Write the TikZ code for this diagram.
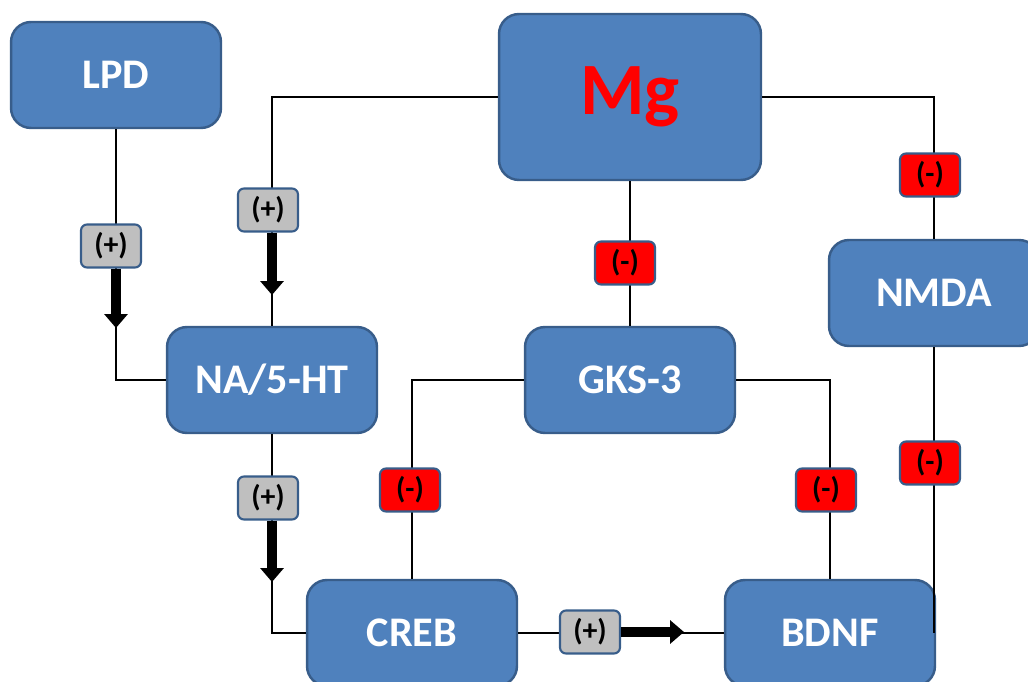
\documentclass[tikz,border=0pt]{standalone}
\usepackage{fontspec}
\setmainfont{Carlito}
\usepackage{tikz}
\usetikzlibrary{arrows.meta}

\definecolor{boxblue}{HTML}{4F81BD}
\definecolor{boxline}{HTML}{385D8A}
\definecolor{plusgray}{HTML}{BFBFBF}

\begin{document}
\begin{tikzpicture}[x=0.02cm, y=-0.02cm, line width=1.2pt,
    main node/.style={rectangle, rounded corners=0.4cm, draw=boxline, line width=1.4pt,
                      fill=boxblue, text=white, font=\fontsize{24}{26}\selectfont\bfseries,
                      minimum width=4.2cm, minimum height=2.12cm},
    plus node/.style={rectangle, rounded corners=0.12cm, draw=boxline, line width=1.2pt,
                      fill=plusgray, font=\fontsize{17}{19}\selectfont\bfseries,
                      minimum width=1.2cm, minimum height=0.86cm, inner sep=0pt},
    minus node/.style={plus node, fill=red},
    fat arrow/.style={line width=0.2cm, -{Triangle[width=0.46cm, length=0.28cm]}}]
  \useasboundingbox (0,0) rectangle (1028,682);
  \node[main node] (lpd) at (116,75) {LPD};
  \node[main node, minimum width=5.24cm, minimum height=3.32cm, text=red,
        font=\fontsize{42}{46}\selectfont\bfseries] (mg) at (630,97) {Mg};
  \node[main node] (nmda) at (934,293) {NMDA};
  \node[main node] (na) at (272,380) {NA/5-HT};
  \node[main node] (gks) at (630,380) {GKS-3};
  \node[main node] (creb) at (412,633) {CREB};
  \node[main node] (bdnf) at (830,633) {BDNF};
  % connectors
  \draw (lpd.south) |- (na.west);
  \draw (mg.west) -| (na.north);
  \draw (mg.south) -- (gks.north);
  \draw (mg.east) -| (nmda.north);
  \draw (nmda.south) -- (nmda.south |- bdnf.east);
  \draw (gks.west) -| (creb.north);
  \draw (gks.east) -| (bdnf.north);
  \draw (na.south) |- (creb.west);
  \draw (creb.east) -- (bdnf.west);
  % signs
  \node[plus node] (b1) at (111,246) {(+)};
  \node[plus node] (b2) at (268,210) {(+)};
  \node[minus node] (b3) at (625,263) {(-)};
  \node[minus node] (b4) at (930,175) {(-)};
  \node[minus node] (b5) at (930,463) {(-)};
  \node[minus node] (b6) at (410,490) {(-)};
  \node[minus node] (b7) at (826,490) {(-)};
  \node[plus node] (b8) at (268,498) {(+)};
  \node[plus node] (b9) at (590,632) {(+)};
  \coordinate (a1) at (116,328);
  \coordinate (a2) at (272,295);
  \coordinate (a8) at (272,582);
  \coordinate (a9) at (684,632);
  \draw[fat arrow] (b1.south -| a1) -- (a1);
  \draw[fat arrow] (b2.south -| a2) -- (a2);
  \draw[fat arrow] (b8.south -| a8) -- (a8);
  \draw[fat arrow] (b9.east) -- (a9);
\end{tikzpicture}
\end{document}
